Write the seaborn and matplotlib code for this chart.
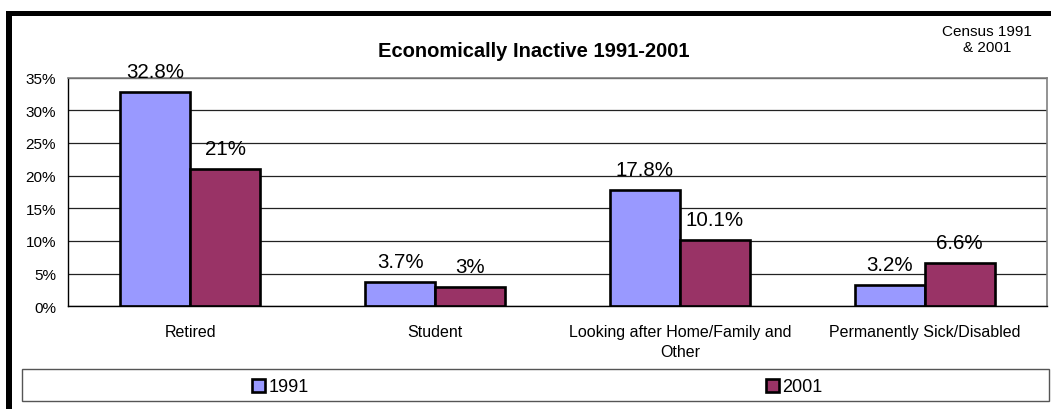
import numpy as np
import pandas as pd
import seaborn as sns
import matplotlib.pyplot as plt
from matplotlib.patches import Patch, Rectangle
from matplotlib.ticker import PercentFormatter

# Data
categories = ["Retired", "Student", "Looking after Home/Family and\nOther", "Permanently Sick/Disabled"]
years = ["1991", "2001"]
values_1991 = [32.8, 3.7, 17.8, 3.2]
values_2001 = [21, 3, 10.1, 6.6]
colors = ["#9999FF", "#993366"]

df = pd.DataFrame({
    "category": categories * 2,
    "year": [years[0]] * len(categories) + [years[1]] * len(categories),
    "value": values_1991 + values_2001,
})

sns.set_style("white")
plt.rcParams["font.family"] = ["Liberation Sans", "DejaVu Sans"]
plt.rcParams["text.color"] = "black"
plt.rcParams["xtick.color"] = "black"
plt.rcParams["ytick.color"] = "black"
plt.rcParams["axes.labelcolor"] = "black"

W, H = 1051, 410
fig = plt.figure(figsize=(W / 100, H / 100), dpi=100)
ax = fig.add_axes([68 / W, 1 - 307.3 / H, (1047 - 68) / W, (307.3 - 78.5) / H])

sns.barplot(data=df, x="category", y="value", hue="year", palette=colors,
            width=0.571, edgecolor="black", linewidth=1.9, saturation=1,
            errorbar=None, legend=False, ax=ax)

# value labels above each bar
for container, vals in zip(ax.containers, [values_1991, values_2001]):
    ax.bar_label(container, labels=[f"{v:g}%" for v in vals], padding=8, fontsize=14.8,
                 color="black")

ax.set_ylim(0, 35)
ax.set_xlim(-0.5, len(categories) - 0.5)
ax.set_yticks(np.arange(0, 36, 5))
ax.yaxis.set_major_formatter(PercentFormatter(100, decimals=0))
ax.tick_params(axis="y", length=3.6, width=1, color="black", direction="out", pad=5, labelsize=11)

# ticks at the category boundaries, labels at the centres
ax.set_xticks(np.arange(-0.5, len(categories), 1))
ax.set_xticklabels([""] * (len(categories) + 1))
ax.set_xticks(range(len(categories)), minor=True)
ax.set_xticklabels(categories, minor=True)
ax.tick_params(axis="x", which="major", length=3.6, width=1, color="black", direction="out")
ax.tick_params(axis="x", which="minor", length=0, pad=13, labelsize=11.5)
plt.setp(ax.get_xticklabels(minor=True), linespacing=1.35)

ax.set_xlabel("")
ax.set_ylabel("")
ax.yaxis.grid(True, color="#222222", linewidth=0.9)
ax.set_axisbelow(True)
for side in ["left", "bottom"]:
    ax.spines[side].set_color("black")
    ax.spines[side].set_linewidth(1)
for side in ["top", "right"]:
    ax.spines[side].set_visible(True)
    ax.spines[side].set_color("#808080")
    ax.spines[side].set_linewidth(1.2)

fig.text(534 / W, 1 - 57.3 / H, "Economically Inactive 1991-2001", ha="center", va="baseline",
         fontsize=14.5, fontweight="bold")
fig.text(987 / W, 1 - 25 / H, "Census 1991\n& 2001", ha="center", va="top",
         fontsize=11, linespacing=1.2)

# legend box with the two entries centred in each half
fig.patches.append(Rectangle((22 / W, 1 - 402 / H), (1049 - 22) / W, 32 / H,
                             transform=fig.transFigure, fill=False, edgecolor="#555555", linewidth=1))
for yr, col, xc in zip(years, colors, [280, 794]):
    handle = Patch(facecolor=col, edgecolor="black", linewidth=1.9, label=yr)
    fig.legend(handles=[handle], loc="center", bbox_to_anchor=(xc / W, 1 - 388 / H),
               frameon=False, fontsize=13, handlelength=0.72, handleheight=0.72,
               handletextpad=0.2, borderpad=0)

# thick black border on the top and left edges
fig.patches.append(Rectangle((6 / W, 0), 6.3 / W, (H - 12.3) / H, transform=fig.transFigure,
                             color="black", linewidth=0))
fig.patches.append(Rectangle((6 / W, 1 - 17.3 / H), 1 - 6 / W, 5 / H, transform=fig.transFigure,
                             color="black", linewidth=0))

plt.savefig("out.png", dpi=100)
